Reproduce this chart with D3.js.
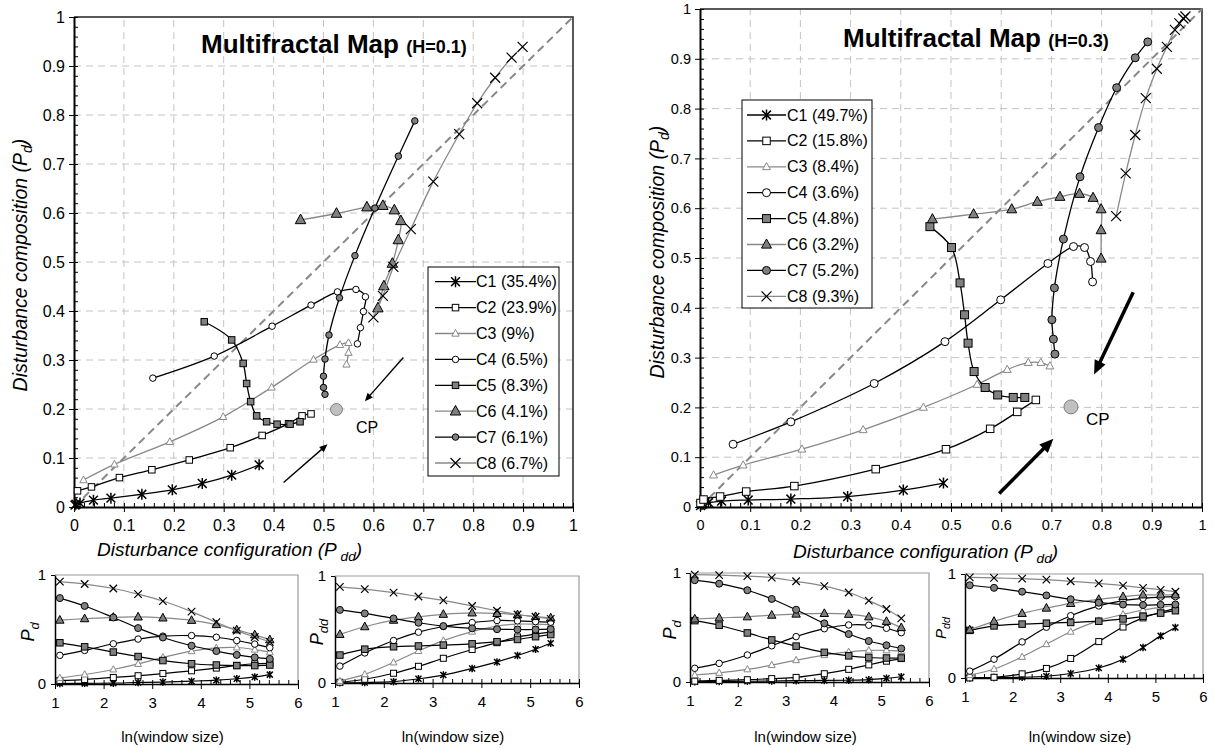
<!DOCTYPE html>
<html><head><meta charset="utf-8">
<script src="https://cdn.jsdelivr.net/npm/d3@7"></script>
<style>body{margin:0;background:#fff}svg{display:block}text{font-family:"Liberation Sans",Arial,sans-serif;fill:#000}</style>
</head><body><svg id="c" width="1215" height="749"></svg>
<script>
// ---------- DATA ----------
const lnWindow = [1.10,1.61,2.20,2.71,3.22,3.81,4.32,4.74,5.11,5.42];
const clusterNames = ["C1","C2","C3","C4","C5","C6","C7","C8"];
const legendH1 = ["C1 (35.4%)","C2 (23.9%)","C3 (9%)","C4 (6.5%)","C5 (8.3%)","C6 (4.1%)","C7 (6.1%)","C8 (6.7%)"];
const legendH3 = ["C1 (49.7%)","C2 (15.8%)","C3 (8.4%)","C4 (3.6%)","C5 (4.8%)","C6 (3.2%)","C7 (5.2%)","C8 (9.3%)"];
const mainTicks = [0,0.1,0.2,0.3,0.4,0.5,0.6,0.7,0.8,0.9,1];
const mainTickLabels = ["0","0.1","0.2","0.3","0.4","0.5","0.6","0.7","0.8","0.9","1"];
const smallXTicks = [1,2,3,4,5,6];
const smallYTicks = [0,1];

// H = 0.1 : disturbance configuration (Pdd) and composition (Pd) per cluster, per window size
const h1Pdd = [
 [0.002,0.004,0.012,0.039,0.074,0.136,0.197,0.257,0.316,0.371],
 [0.007,0.035,0.091,0.156,0.231,0.313,0.377,0.430,0.457,0.475],
 [0.019,0.081,0.192,0.299,0.396,0.480,0.533,0.550,0.550,0.546],
 [0.158,0.281,0.397,0.475,0.528,0.565,0.584,0.580,0.574,0.568],
 [0.261,0.316,0.339,0.346,0.354,0.366,0.386,0.407,0.433,0.453],
 [0.454,0.526,0.587,0.619,0.642,0.655,0.650,0.638,0.621,0.609],
 [0.683,0.650,0.603,0.563,0.532,0.511,0.503,0.500,0.500,0.503],
 [0.899,0.877,0.844,0.808,0.772,0.720,0.675,0.640,0.619,0.600]
];
const h1Pd = [
 [0.004,0.006,0.008,0.014,0.018,0.026,0.035,0.048,0.065,0.086],
 [0.033,0.041,0.060,0.076,0.096,0.121,0.146,0.170,0.186,0.190],
 [0.055,0.087,0.133,0.184,0.244,0.301,0.331,0.335,0.315,0.291],
 [0.263,0.308,0.369,0.412,0.439,0.444,0.429,0.399,0.366,0.333],
 [0.378,0.341,0.293,0.252,0.215,0.186,0.174,0.169,0.169,0.174],
 [0.586,0.599,0.612,0.615,0.606,0.584,0.545,0.497,0.451,0.406],
 [0.788,0.716,0.610,0.513,0.427,0.351,0.302,0.267,0.244,0.230],
 [0.939,0.917,0.876,0.824,0.761,0.664,0.567,0.490,0.431,0.387]
];
// H = 0.3
const h3Pdd = [
 [0.001,0.004,0.007,0.017,0.043,0.096,0.181,0.294,0.405,0.485],
 [0.001,0.007,0.040,0.092,0.188,0.350,0.490,0.578,0.632,0.669],
 [0.027,0.086,0.203,0.325,0.445,0.552,0.612,0.654,0.679,0.697],
 [0.066,0.181,0.347,0.488,0.599,0.693,0.744,0.766,0.778,0.782],
 [0.458,0.501,0.518,0.527,0.534,0.546,0.568,0.593,0.624,0.647],
 [0.463,0.545,0.621,0.672,0.717,0.756,0.783,0.799,0.799,0.799],
 [0.892,0.867,0.830,0.794,0.757,0.724,0.706,0.701,0.704,0.707],
 [0.967,0.963,0.955,0.946,0.930,0.910,0.888,0.867,0.848,0.829]
];
const h3Pd = [
 [0.003,0.005,0.007,0.009,0.012,0.014,0.016,0.021,0.034,0.048],
 [0.008,0.015,0.021,0.031,0.042,0.076,0.116,0.157,0.191,0.215],
 [0.064,0.084,0.116,0.155,0.200,0.246,0.276,0.290,0.290,0.283],
 [0.126,0.171,0.248,0.332,0.416,0.489,0.523,0.521,0.493,0.452],
 [0.563,0.521,0.450,0.386,0.329,0.272,0.240,0.225,0.220,0.220],
 [0.578,0.588,0.598,0.613,0.623,0.629,0.621,0.598,0.556,0.499],
 [0.934,0.902,0.842,0.762,0.663,0.538,0.440,0.376,0.337,0.307],
 [0.985,0.981,0.971,0.958,0.924,0.880,0.821,0.747,0.670,0.584]
];
// critical point and arrows (data coordinates)
const cpH1 = [0.526,0.199];
const cpH3 = [0.739,0.201];
const arrowsH1 = [[0.42,0.05,0.508,0.128],[0.66,0.305,0.583,0.216]];
const arrowsH3 = [[0.596,0.027,0.704,0.137],[0.863,0.431,0.785,0.266]];

// ---------- STYLES ----------
const styles = [
 {mk:"star",line:"#000",fill:"none",stroke:"#000"},
 {mk:"square",line:"#000",fill:"#fff",stroke:"#000"},
 {mk:"triangle",line:"#888",fill:"#fff",stroke:"#888"},
 {mk:"circle",line:"#000",fill:"#fff",stroke:"#000"},
 {mk:"square",line:"#000",fill:"#808080",stroke:"#000"},
 {mk:"triangle",line:"#888",fill:"#808080",stroke:"#000"},
 {mk:"circle",line:"#000",fill:"#808080",stroke:"#000"},
 {mk:"x",line:"#888",fill:"none",stroke:"#000"}
];
const sizesL = [11,6.5,7,6.5,6.5,10,6.5,10];
const sizesR = [11,7.5,7.5,8,8,9.5,8,10];
const sizesS = [7.5,6,6.5,6.5,6.5,8,7,7.5];

const svg = d3.select("#c");

function addMarker(g,type,x,y,s,st){
  const h=s/2;
  if(type==="circle") g.append("circle").attr("cx",x).attr("cy",y).attr("r",h).attr("fill",st.fill).attr("stroke",st.stroke).attr("stroke-width",1);
  else if(type==="square") g.append("rect").attr("x",x-h).attr("y",y-h).attr("width",s).attr("height",s).attr("fill",st.fill).attr("stroke",st.stroke).attr("stroke-width",1);
  else if(type==="triangle") g.append("path").attr("d",`M${x},${y-s*0.58}L${x+h*1.05},${y+s*0.38}L${x-h*1.05},${y+s*0.38}Z`).attr("fill",st.fill).attr("stroke",st.stroke).attr("stroke-width",1);
  else if(type==="x") g.append("path").attr("d",`M${x-h},${y-h}L${x+h},${y+h}M${x+h},${y-h}L${x-h},${y+h}`).attr("stroke",st.stroke).attr("stroke-width",1.2).attr("fill","none");
  else g.append("path").attr("d",`M${x},${y-h}L${x},${y+h}M${x-h*0.8},${y-h*0.8}L${x+h*0.8},${y+h*0.8}M${x+h*0.8},${y-h*0.8}L${x-h*0.8},${y+h*0.8}`).attr("stroke",st.stroke).attr("stroke-width",1.5).attr("fill","none");
}

function subText(g,x,y,pre,sub,post,size,rot,anchor){
  const t=g.append("text").attr("font-style","italic").attr("font-size",size).attr("text-anchor",anchor||"start");
  if(rot) t.attr("transform",`translate(${x},${y}) rotate(-90)`); else t.attr("x",x).attr("y",y);
  t.append("tspan").text(pre);
  t.append("tspan").attr("font-size",size*0.72).attr("dy",size*0.25).text(sub);
  t.append("tspan").attr("dy",-size*0.25).text(post);
  return t;
}

function arrow(g,x1,y1,x2,y2,w,hl,hw){
  const dx=x2-x1, dy=y2-y1, L=Math.hypot(dx,dy), ux=dx/L, uy=dy/L;
  const bx=x2-ux*hl, by=y2-uy*hl;
  g.append("line").attr("x1",x1).attr("y1",y1).attr("x2",bx+ux*1).attr("y2",by+uy*1).attr("stroke","#000").attr("stroke-width",w);
  g.append("path").attr("d",`M${x2},${y2}L${bx-uy*hw},${by+ux*hw}L${bx+uy*hw},${by-ux*hw}Z`).attr("fill","#000");
}

function drawMain(o){
  const x=d3.scaleLinear().domain([0,1]).range([o.x0,o.x1]);
  const y=d3.scaleLinear().domain([0,1]).range([o.y0,o.y1]);
  const g=svg.append("g");
  const inner=mainTicks.slice(1,-1);
  g.selectAll(null).data(inner).enter().append("line").attr("x1",d=>x(d)).attr("x2",d=>x(d)).attr("y1",y(0)).attr("y2",y(1)).attr("stroke","#c4c4c4").attr("stroke-dasharray","7,5");
  g.selectAll(null).data(inner).enter().append("line").attr("y1",d=>y(d)).attr("y2",d=>y(d)).attr("x1",x(0)).attr("x2",x(1)).attr("stroke","#c4c4c4").attr("stroke-dasharray","7,5");
  g.append("path").attr("d",`M${x(0)},${y(1)}H${x(1)}V${y(0)}`).attr("fill","none").attr("stroke","#222").attr("stroke-width",1.5);
  g.append("line").attr("x1",x(0)).attr("y1",y(0)).attr("x2",x(1)).attr("y2",y(1)).attr("stroke","#888").attr("stroke-width",2).attr("stroke-dasharray","8,5");
  const minor=d3.range(0,1.0001,0.02);
  const xa=g.append("g").attr("transform",`translate(0,${y(0)})`).call(d3.axisBottom(x).tickValues(mainTicks).tickFormat((d,i)=>mainTickLabels[i]).tickSizeInner(5).tickSizeOuter(0).tickPadding(o.xPad));
  g.append("g").attr("transform",`translate(0,${y(0)})`).call(d3.axisTop(x).tickValues(minor).tickFormat("").tickSizeInner(4).tickSizeOuter(0)).select(".domain").remove();
  const ya=g.append("g").attr("transform",`translate(${x(0)},0)`).call(d3.axisLeft(y).tickValues(mainTicks).tickFormat((d,i)=>mainTickLabels[i]).tickSizeInner(5).tickSizeOuter(0).tickPadding(4));
  g.append("g").attr("transform",`translate(${x(0)},0)`).call(d3.axisRight(y).tickValues(minor).tickFormat("").tickSizeInner(4).tickSizeOuter(0)).select(".domain").remove();
  [xa,ya].forEach(a=>{a.select(".domain").attr("stroke","#000").attr("stroke-width",2);a.selectAll("text").attr("font-size",o.tickFont).attr("font-family","Liberation Sans, Arial, sans-serif").attr("fill","#000");});
  g.selectAll(".tick line").attr("stroke","#000");
  const line=d3.line().x(d=>x(d[0])).y(d=>y(d[1])).curve(d3.curveCatmullRom.alpha(0.5));
  for(let c=0;c<8;c++){
    const pts=o.pdd[c].map((v,i)=>[v,o.pd[c][i]]);
    const st=styles[c];
    g.append("path").attr("d",line(pts)).attr("fill","none").attr("stroke",st.line).attr("stroke-width",1.3);
    const mg=g.append("g");
    pts.forEach(p=>addMarker(mg,st.mk,x(p[0]),y(p[1]),o.sizes[c],st));
  }
  g.append("circle").attr("cx",x(o.cp[0])).attr("cy",y(o.cp[1])).attr("r",o.cpR).attr("fill","#c0c0c0").attr("stroke","#666").attr("stroke-width",0.8);
  g.append("text").attr("x",o.cpLab[0]).attr("y",o.cpLab[1]).attr("font-size",o.cpFont).attr("font-family",o.cpFamily).text("CP");
  o.arrows.forEach(a=>arrow(g,x(a[0]),y(a[1]),x(a[2]),y(a[3]),o.arrowW,o.arrowHL,o.arrowHW));
  const lg=g.append("g");
  lg.append("rect").attr("x",o.leg.x).attr("y",o.leg.y).attr("width",o.leg.w).attr("height",o.leg.h).attr("fill","#fff").attr("stroke","#000");
  o.legend.forEach((lab,i)=>{
    const yy=o.leg.y0+i*o.leg.dy, st=styles[i];
    lg.append("line").attr("x1",o.leg.l1).attr("x2",o.leg.l2).attr("y1",yy).attr("y2",yy).attr("stroke",st.line).attr("stroke-width",1.3);
    addMarker(lg,st.mk,(o.leg.l1+o.leg.l2)/2,yy,o.sizes[i],st);
    lg.append("text").attr("x",o.leg.tx).attr("y",yy+5.5).attr("font-size",16).text(lab);
  });
  const t=g.append("text").attr("x",o.title[0]).attr("y",o.title[1]).attr("font-weight","bold").attr("font-size",26);
  t.append("tspan").text("Multifractal Map ");
  t.append("tspan").attr("font-size",18).text(o.titleH);
  subText(g,o.xt[0],o.xt[1],"Disturbance configuration (P"," dd",")",19,false,"start");
  subText(g,o.yt[0],o.yt[1],"Disturbance composition (P","d",")",19.5,true,"middle");
}

function drawSmall(o){
  const x=d3.scaleLinear().domain([1,6]).range([o.x0,o.x1]);
  const y=d3.scaleLinear().domain([0,1]).range([o.y0,o.y1]);
  const g=svg.append("g");
  g.append("path").attr("d",`M${x(1)},${y(1)}H${x(6)}V${y(0)}`).attr("fill","none").attr("stroke","#999").attr("stroke-width",1.2);
  const xa=g.append("g").attr("transform",`translate(0,${y(0)})`).call(d3.axisBottom(x).tickValues(smallXTicks).tickFormat(d3.format("d")).tickSizeInner(5).tickSizeOuter(0).tickPadding(8));
  g.append("g").attr("transform",`translate(0,${y(0)})`).call(d3.axisTop(x).tickValues(d3.range(1,6.001,0.2)).tickFormat("").tickSizeInner(4).tickSizeOuter(0)).select(".domain").remove();
  const ya=g.append("g").attr("transform",`translate(${x(1)},0)`).call(d3.axisLeft(y).tickValues(smallYTicks).tickFormat(d3.format("d")).tickSizeInner(4).tickSizeOuter(0).tickPadding(5));
  [xa,ya].forEach(a=>{a.select(".domain").attr("stroke","#000").attr("stroke-width",1.5);a.selectAll("text").attr("font-size",15).attr("font-family","Liberation Sans, Arial, sans-serif").attr("fill","#000");});
  g.selectAll(".tick line").attr("stroke","#000");
  const line=d3.line().x(d=>x(d[0])).y(d=>y(d[1])).curve(d3.curveCatmullRom.alpha(0.5));
  for(let c=0;c<8;c++){
    const pts=lnWindow.map((w,i)=>[w,o.vals[c][i]]);
    const st=styles[c];
    g.append("path").attr("d",line(pts)).attr("fill","none").attr("stroke",st.line).attr("stroke-width",1.2);
    const mg=g.append("g");
    pts.forEach(p=>addMarker(mg,st.mk,x(p[0]),y(p[1]),sizesS[c],st));
  }
  g.append("text").attr("x",(o.x0+o.x1)/2-4).attr("y",742).attr("text-anchor","middle").attr("font-size",15).text("ln(window size)");
  subText(g,o.yt[0],o.yt[1],"P",o.sub,"",o.ytSize,true,"middle");
}

drawMain({x0:74,x1:573,y0:507,y1:17,pd:h1Pd,pdd:h1Pdd,sizes:sizesL,tickFont:16,xPad:8,
  cp:cpH1,cpR:6,cpLab:[356,433],cpFont:16,cpFamily:"Liberation Serif, Times New Roman, serif",
  arrows:arrowsH1,arrowW:1.4,arrowHL:8,arrowHW:3.5,
  leg:{x:428,y:267,w:131,h:209,y0:281.7,dy:25.9,l1:435,l2:476,tx:476},legend:legendH1,
  title:[201,53],titleH:"(H=0.1)",xt:[97,556],yt:[27,265]});
drawMain({x0:700,x1:1202,y0:507,y1:9,pd:h3Pd,pdd:h3Pdd,sizes:sizesR,tickFont:14.5,xPad:8,
  cp:cpH3,cpR:7,cpLab:[1086,425],cpFont:17,cpFamily:"Liberation Sans, Arial, sans-serif",
  arrows:arrowsH3,arrowW:3.5,arrowHL:14,arrowHW:6,
  leg:{x:742,y:100,w:130,h:208,y0:115,dy:25.9,l1:747,l2:786,tx:787},legend:legendH3,
  title:[843,47],titleH:"(H=0.3)",xt:[793,558],yt:[664,252]});

drawSmall({x0:55,x1:298,y0:684,y1:575,vals:h1Pd,sub:"d",yt:[34,632],ytSize:18});
drawSmall({x0:335,x1:579,y0:683,y1:576,vals:h1Pdd,sub:"dd",yt:[323,632],ytSize:18});
drawSmall({x0:690,x1:929,y0:682,y1:573,vals:h3Pd,sub:"d",yt:[676,630],ytSize:18});
drawSmall({x0:965,x1:1203,y0:678,y1:574,vals:h3Pdd,sub:"dd",yt:[946,628],ytSize:15});
</script></body></html>
